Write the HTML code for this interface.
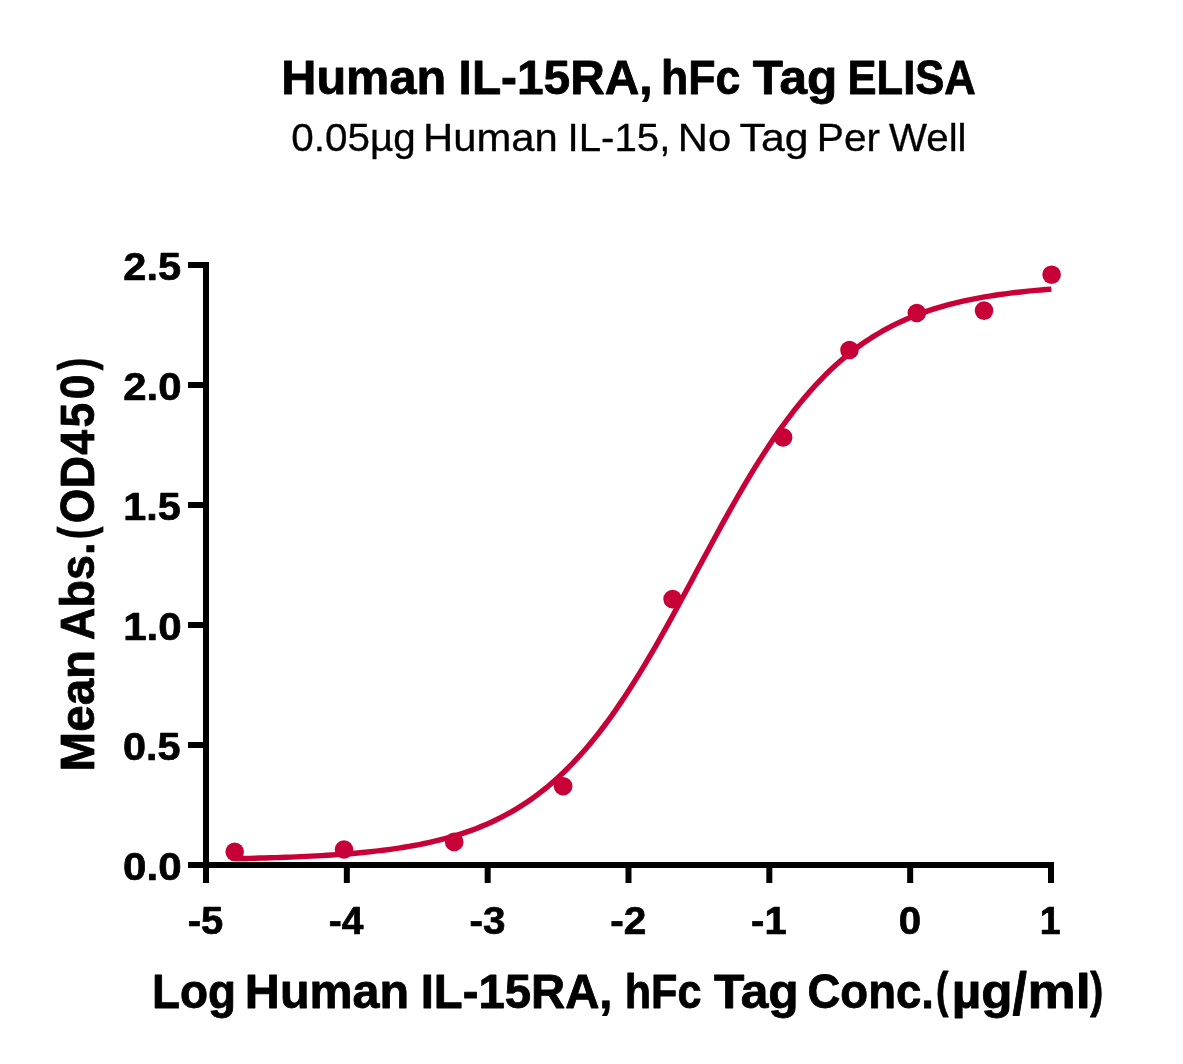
<!DOCTYPE html>
<html><head><meta charset="utf-8"><title>Human IL-15RA, hFc Tag ELISA</title>
<style>
html,body{margin:0;padding:0;background:#fff;}
body{width:1183px;height:1064px;overflow:hidden;font-family:"Liberation Sans",sans-serif;}
svg{display:block;will-change:transform;}
text{font-family:"Liberation Sans",sans-serif;fill:#000;stroke:#000;stroke-linejoin:round;}
.b{font-weight:bold;}
</style></head><body>
<svg width="1183" height="1064" viewBox="0 0 1183 1064">
<rect width="1183" height="1064" fill="#ffffff"/>

<text class="b" transform="translate(281.24,94.00)" font-size="47.50" stroke-width="0.80" textLength="164.97" lengthAdjust="spacingAndGlyphs">Human</text>
<text class="b" transform="translate(458.60,94.00)" font-size="47.50" stroke-width="0.80" textLength="193.90" lengthAdjust="spacingAndGlyphs">IL-15RA,</text>
<text class="b" transform="translate(661.08,94.00)" font-size="47.50" stroke-width="0.80" textLength="79.32" lengthAdjust="spacingAndGlyphs">hFc</text>
<text class="b" transform="translate(752.84,94.00)" font-size="47.50" stroke-width="0.80" textLength="84.37" lengthAdjust="spacingAndGlyphs">Tag</text>
<text class="b" transform="translate(847.49,94.00)" font-size="47.50" stroke-width="0.80" textLength="128.26" lengthAdjust="spacingAndGlyphs">ELISA</text>
<text transform="translate(291.37,151.00)" font-size="38.00" stroke-width="0.30" textLength="124.38" lengthAdjust="spacingAndGlyphs">0.05µg</text>
<text transform="translate(423.12,151.00)" font-size="38.00" stroke-width="0.30" textLength="134.74" lengthAdjust="spacingAndGlyphs">Human</text>
<text transform="translate(567.43,151.00)" font-size="38.00" stroke-width="0.30" textLength="103.04" lengthAdjust="spacingAndGlyphs">IL-15,</text>
<text transform="translate(677.72,151.00)" font-size="38.00" stroke-width="0.30" textLength="53.38" lengthAdjust="spacingAndGlyphs">No</text>
<text transform="translate(739.59,151.00)" font-size="38.00" stroke-width="0.30" textLength="69.02" lengthAdjust="spacingAndGlyphs">Tag</text>
<text transform="translate(816.81,151.00)" font-size="38.00" stroke-width="0.30" textLength="63.31" lengthAdjust="spacingAndGlyphs">Per</text>
<text transform="translate(888.97,151.00)" font-size="38.00" stroke-width="0.30" textLength="77.57" lengthAdjust="spacingAndGlyphs">Well</text>
<text class="b" transform="translate(152.03,1007.90)" font-size="47.40" stroke-width="0.80" textLength="84.14" lengthAdjust="spacingAndGlyphs">Log</text>
<text class="b" transform="translate(244.86,1007.90)" font-size="47.40" stroke-width="0.80" textLength="164.35" lengthAdjust="spacingAndGlyphs">Human</text>
<text class="b" transform="translate(420.64,1007.90)" font-size="47.40" stroke-width="0.80" textLength="191.83" lengthAdjust="spacingAndGlyphs">IL-15RA,</text>
<text class="b" transform="translate(624.68,1007.90)" font-size="47.40" stroke-width="0.80" textLength="76.78" lengthAdjust="spacingAndGlyphs">hFc</text>
<text class="b" transform="translate(713.94,1007.90)" font-size="47.40" stroke-width="0.80" textLength="84.79" lengthAdjust="spacingAndGlyphs">Tag</text>
<text class="b" transform="translate(807.43,1007.90)" font-size="47.40" stroke-width="0.80" textLength="126.50" lengthAdjust="spacingAndGlyphs">Conc.</text>
<text class="b" transform="translate(935.95,1006.70)" font-size="50.00" stroke-width="0.80" textLength="12.39" lengthAdjust="spacingAndGlyphs">(</text>
<text class="b" transform="translate(951.74,1007.90)" font-size="47.40" stroke-width="0.80" textLength="60.89" lengthAdjust="spacingAndGlyphs">µg</text>
<text class="b" transform="translate(1012.49,1014.40) scale(1,1.240)" font-size="47.40" stroke-width="0.80" textLength="14.41" lengthAdjust="spacingAndGlyphs">/</text>
<text class="b" transform="translate(1027.52,1007.90)" font-size="47.40" stroke-width="0.80" textLength="63.32" lengthAdjust="spacingAndGlyphs">ml</text>
<text class="b" transform="translate(1090.26,1006.70)" font-size="50.00" stroke-width="0.80" textLength="12.98" lengthAdjust="spacingAndGlyphs">)</text>
<text class="b" transform="translate(123.31,280.40)" font-size="38.40" stroke-width="0.70" textLength="57.69" lengthAdjust="spacingAndGlyphs">2.5</text>
<text class="b" transform="translate(123.30,400.40)" font-size="38.40" stroke-width="0.70" textLength="58.27" lengthAdjust="spacingAndGlyphs">2.0</text>
<text class="b" transform="translate(123.25,520.40)" font-size="38.40" stroke-width="0.70" textLength="57.45" lengthAdjust="spacingAndGlyphs">1.5</text>
<text class="b" transform="translate(123.20,640.40)" font-size="38.40" stroke-width="0.70" textLength="58.47" lengthAdjust="spacingAndGlyphs">1.0</text>
<text class="b" transform="translate(123.11,760.40)" font-size="38.40" stroke-width="0.70" textLength="57.49" lengthAdjust="spacingAndGlyphs">0.5</text>
<text class="b" transform="translate(123.09,880.40)" font-size="38.40" stroke-width="0.70" textLength="58.49" lengthAdjust="spacingAndGlyphs">0.0</text>
<text class="b" transform="translate(187.79,933.60)" font-size="38.40" stroke-width="0.70" textLength="35.58" lengthAdjust="spacingAndGlyphs">-5</text>
<text class="b" transform="translate(328.66,933.60)" font-size="38.40" stroke-width="0.70" textLength="34.63" lengthAdjust="spacingAndGlyphs">-4</text>
<text class="b" transform="translate(469.44,933.60)" font-size="38.40" stroke-width="0.70" textLength="35.94" lengthAdjust="spacingAndGlyphs">-3</text>
<text class="b" transform="translate(610.26,933.60)" font-size="38.40" stroke-width="0.70" textLength="36.11" lengthAdjust="spacingAndGlyphs">-2</text>
<text class="b" transform="translate(751.12,933.60)" font-size="38.40" stroke-width="0.70" textLength="35.58" lengthAdjust="spacingAndGlyphs">-1</text>
<text class="b" transform="translate(898.83,933.60)" font-size="38.40" stroke-width="0.70" textLength="22.34" lengthAdjust="spacingAndGlyphs">0</text>
<text class="b" transform="translate(1039.68,933.60)" font-size="38.40" stroke-width="0.70" textLength="20.92" lengthAdjust="spacingAndGlyphs">1</text>
<text class="b" transform="translate(94.40,771.38) rotate(-90)" font-size="47.40" stroke-width="0.80" textLength="121.53" lengthAdjust="spacingAndGlyphs">Mean</text>
<text class="b" transform="translate(94.40,639.92) rotate(-90)" font-size="47.40" stroke-width="0.80" textLength="97.31" lengthAdjust="spacingAndGlyphs">Abs.</text>
<text class="b" transform="translate(93.20,538.95) rotate(-90)" font-size="50.00" stroke-width="0.80" textLength="12.39" lengthAdjust="spacingAndGlyphs">(</text>
<text class="b" transform="translate(93.20,370.34) rotate(-90)" font-size="50.00" stroke-width="0.80" textLength="12.27" lengthAdjust="spacingAndGlyphs">)</text>
<text class="b" transform="translate(94.40,768.60) rotate(-90) scale(0.9384,1)" font-size="47.40" stroke-width="0.80" x="261.52 298.67 334.35 363.39 393.65">OD450</text>
<g fill="#000">
<rect x="203" y="262" width="6" height="621"/>
<rect x="188" y="862" width="866" height="6"/>
<rect x="188" y="262" width="18" height="6"/>
<rect x="188" y="382" width="18" height="6"/>
<rect x="188" y="502" width="18" height="6"/>
<rect x="188" y="622" width="18" height="6"/>
<rect x="188" y="742" width="18" height="6"/>
<rect x="188" y="862" width="18" height="6"/>
<rect x="203.00" y="865" width="6" height="18"/>
<rect x="343.83" y="865" width="6" height="18"/>
<rect x="484.67" y="865" width="6" height="18"/>
<rect x="625.50" y="865" width="6" height="18"/>
<rect x="766.33" y="865" width="6" height="18"/>
<rect x="907.17" y="865" width="6" height="18"/>
<rect x="1048.00" y="865" width="6" height="18"/>
</g>
<path d="M234.30,858.65 L239.44,858.55 L244.58,858.44 L249.72,858.33 L254.86,858.20 L259.99,858.07 L265.13,857.93 L270.27,857.79 L275.41,857.63 L280.55,857.46 L285.69,857.28 L290.83,857.08 L295.97,856.88 L301.11,856.66 L306.25,856.42 L311.38,856.17 L316.52,855.90 L321.66,855.61 L326.80,855.31 L331.94,854.98 L337.08,854.63 L342.22,854.26 L347.36,853.86 L352.50,853.44 L357.64,852.98 L362.77,852.50 L367.91,851.99 L373.05,851.44 L378.19,850.85 L383.33,850.22 L388.47,849.56 L393.61,848.85 L398.75,848.09 L403.89,847.28 L409.03,846.42 L414.16,845.51 L419.30,844.53 L424.44,843.49 L429.58,842.38 L434.72,841.20 L439.86,839.95 L445.00,838.62 L450.14,837.20 L455.28,835.69 L460.42,834.09 L465.55,832.39 L470.69,830.58 L475.83,828.66 L480.97,826.63 L486.11,824.47 L491.25,822.18 L496.39,819.76 L501.53,817.19 L506.67,814.48 L511.81,811.60 L516.94,808.57 L522.08,805.36 L527.22,801.98 L532.36,798.41 L537.50,794.66 L542.64,790.70 L547.78,786.54 L552.92,782.17 L558.06,777.58 L563.20,772.77 L568.33,767.73 L573.47,762.45 L578.61,756.94 L583.75,751.19 L588.89,745.20 L594.03,738.96 L599.17,732.48 L604.31,725.75 L609.45,718.78 L614.59,711.57 L619.72,704.13 L624.86,696.45 L630.00,688.55 L635.14,680.43 L640.28,672.11 L645.42,663.59 L650.56,654.90 L655.70,646.03 L660.84,637.01 L665.98,627.85 L671.11,618.58 L676.25,609.20 L681.39,599.74 L686.53,590.22 L691.67,580.66 L696.81,571.09 L701.95,561.51 L707.09,551.95 L712.23,542.44 L717.37,532.99 L722.50,523.63 L727.64,514.37 L732.78,505.23 L737.92,496.23 L743.06,487.38 L748.20,478.71 L753.34,470.22 L758.48,461.92 L763.62,453.84 L768.76,445.97 L773.89,438.32 L779.03,430.91 L784.17,423.73 L789.31,416.79 L794.45,410.10 L799.59,403.65 L804.73,397.44 L809.87,391.48 L815.01,385.77 L820.15,380.29 L825.28,375.05 L830.42,370.04 L835.56,365.26 L840.70,360.70 L845.84,356.35 L850.98,352.22 L856.12,348.29 L861.26,344.56 L866.40,341.02 L871.54,337.66 L876.67,334.48 L881.81,331.47 L886.95,328.62 L892.09,325.92 L897.23,323.38 L902.37,320.97 L907.51,318.70 L912.65,316.56 L917.79,314.54 L922.93,312.64 L928.06,310.84 L933.20,309.16 L938.34,307.57 L943.48,306.07 L948.62,304.67 L953.76,303.34 L958.90,302.10 L964.04,300.93 L969.18,299.84 L974.32,298.80 L979.45,297.84 L984.59,296.93 L989.73,296.07 L994.87,295.27 L1000.01,294.52 L1005.15,293.82 L1010.29,293.16 L1015.43,292.54 L1020.57,291.96 L1025.71,291.41 L1030.84,290.90 L1035.98,290.42 L1041.12,289.97 L1046.26,289.55 L1051.40,289.16" fill="none" stroke="#c80038" stroke-width="5.40" stroke-linejoin="round"/>
<circle cx="234.7" cy="851.8" r="9.30" fill="#c80038"/>
<circle cx="344.0" cy="849.5" r="9.30" fill="#c80038"/>
<circle cx="454.2" cy="841.9" r="9.30" fill="#c80038"/>
<circle cx="563.1" cy="786.2" r="9.30" fill="#c80038"/>
<circle cx="672.6" cy="599.1" r="9.30" fill="#c80038"/>
<circle cx="783.1" cy="437.4" r="9.30" fill="#c80038"/>
<circle cx="849.5" cy="350.0" r="9.30" fill="#c80038"/>
<circle cx="916.8" cy="313.0" r="9.30" fill="#c80038"/>
<circle cx="984.0" cy="310.6" r="9.30" fill="#c80038"/>
<circle cx="1051.6" cy="274.7" r="9.30" fill="#c80038"/>
</svg></body></html>
